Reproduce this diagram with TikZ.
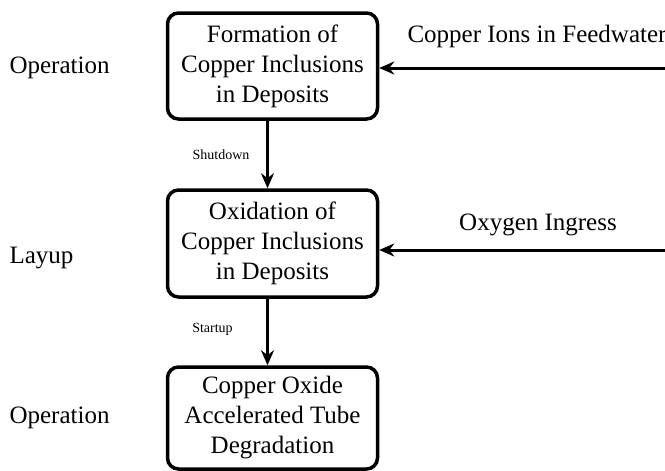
\documentclass[tikz,border=0pt]{standalone}
\usepackage{fontspec}
\setmainfont{Liberation Serif}
\newfontfamily\timesfont{Liberation Serif}
\usepackage{tikz}
\usetikzlibrary{arrows.meta}

\begin{document}
\begin{tikzpicture}[x=1pt,y=-1pt,
    stagebox/.style={draw, line width=3.5pt, rounded corners=11pt, align=center,
        minimum width=210pt, font=\timesfont\fontsize{25}{30}\selectfont},
    flow/.style={line width=3pt, -{Stealth[length=15pt,width=13pt]}},
    phase/.style={anchor=west, font=\timesfont\fontsize{25}{30}\selectfont},
    inlabel/.style={font=\timesfont\fontsize{25}{30}\selectfont},
    steplabel/.style={font=\timesfont\fontsize{14}{16}\selectfont}]
\useasboundingbox (0,0) rectangle (665,471);
% Stages
\node[stagebox, minimum height=106pt] (form) at (272.5,66) {Formation of\\Copper Inclusions\\in Deposits};
\node[stagebox, minimum height=107pt] (oxid) at (272.5,243.5) {Oxidation of\\Copper Inclusions\\in Deposits};
\node[stagebox, minimum height=102pt] (degr) at (272.5,418) {Copper Oxide\\Accelerated Tube\\Degradation};
% Phases
\node[phase] (op1) at (6,68) {Operation};
\node[phase] (lay) at (6,258) {Layup};
\node[phase] (op2) at (6,418) {Operation};
% Transitions
\draw[flow] ([xshift=-5pt]form.south) -- ([xshift=-5pt]oxid.north);
\draw[flow] ([xshift=-5pt]oxid.south) -- ([xshift=-5pt]degr.north);
\node[steplabel] (shut) at (221,155) {Shutdown};
\node[steplabel] (start) at (212.5,329) {Startup};
% Inputs
\coordinate (feed) at (667,68);
\coordinate (oxy) at (667,250);
\draw[flow] (feed) -- (feed -| form.east);
\draw[flow] (oxy) -- (oxy -| oxid.east);
\node[inlabel] (ions) at (537,36) {Copper Ions in Feedwater};
\node[inlabel] (ingr) at (538,225) {Oxygen Ingress};
\end{tikzpicture}
\end{document}
